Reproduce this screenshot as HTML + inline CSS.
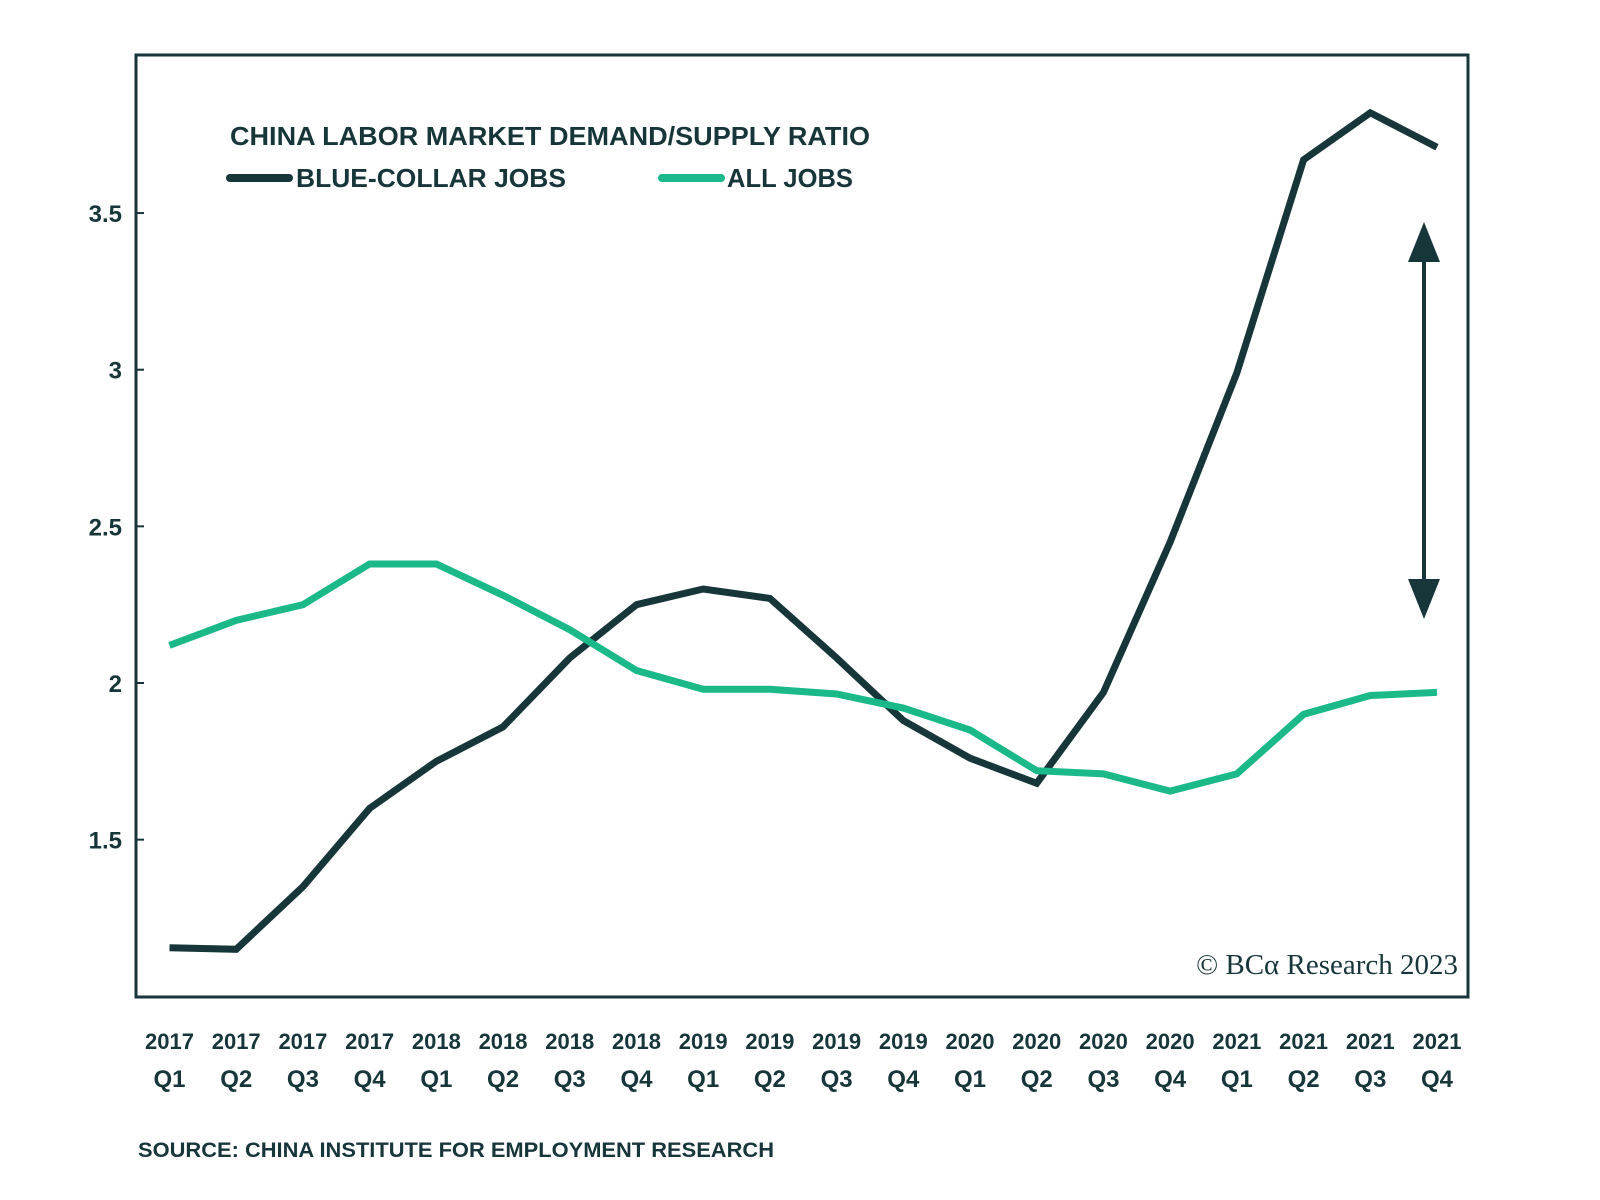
<!DOCTYPE html>
<html><head><meta charset="utf-8"><style>
body{margin:0;background:#fff;}
svg{display:block;font-family:"Liberation Sans",sans-serif;}
</style></head><body>
<svg id="c" width="1600" height="1200" viewBox="0 0 1600 1200">
<rect x="136" y="55" width="1332" height="942" fill="none" stroke="#17363a" stroke-width="3"/>
<g id="yt"></g>
<g id="xt"></g>
<g id="lines"></g>
<text x="230" y="145" font-size="26" font-weight="bold" fill="#17363a" textLength="640" lengthAdjust="spacingAndGlyphs">CHINA LABOR MARKET DEMAND/SUPPLY RATIO</text>
<g>
<line x1="230" y1="178" x2="289" y2="178" stroke="#17363a" stroke-width="8" stroke-linecap="round"/>
<text x="296" y="187" font-size="26" font-weight="bold" fill="#17363a" textLength="270" lengthAdjust="spacingAndGlyphs">BLUE-COLLAR JOBS</text>
</g>
<g>
<line x1="662" y1="178" x2="721" y2="178" stroke="#1bb98a" stroke-width="8" stroke-linecap="round"/>
<text x="727" y="187" font-size="26" font-weight="bold" fill="#17363a" textLength="126" lengthAdjust="spacingAndGlyphs">ALL JOBS</text>
</g>
<g>
<line x1="1424" y1="250" x2="1424" y2="590" stroke="#17363a" stroke-width="4"/>
<polygon points="1424,222 1408,262 1440,262" fill="#17363a"/>
<polygon points="1424,619 1408,579 1440,579" fill="#17363a"/>
</g>
<text x="1458" y="974" font-size="29" text-anchor="end" fill="#17363a" font-family="Liberation Serif, serif">© BCα Research 2023</text>
<text x="138" y="1157" font-size="21" font-weight="bold" fill="#17363a" textLength="636" lengthAdjust="spacingAndGlyphs">SOURCE: CHINA INSTITUTE FOR EMPLOYMENT RESEARCH</text>
</svg>
<script>
const years=["2017","2017","2017","2017","2018","2018","2018","2018","2019","2019","2019","2019","2020","2020","2020","2020","2021","2021","2021","2021"];
const quarters=["Q1","Q2","Q3","Q4","Q1","Q2","Q3","Q4","Q1","Q2","Q3","Q4","Q1","Q2","Q3","Q4","Q1","Q2","Q3","Q4"];
const blueCollar=[1.155,1.15,1.35,1.6,1.75,1.86,2.08,2.25,2.30,2.27,2.08,1.88,1.76,1.68,1.97,2.45,2.99,3.67,3.82,3.71];
const allJobs=[2.12,2.20,2.25,2.38,2.38,2.28,2.17,2.04,1.98,1.98,1.965,1.92,1.85,1.72,1.71,1.655,1.71,1.90,1.96,1.97];
const yTicks=[1.5,2,2.5,3,3.5];
const yLabels=["1.5","2","2.5","3","3.5"];
const NS="http://www.w3.org/2000/svg";
const x=i=>169.5+i*(1437-169.5)/(years.length-1);
const y=v=>683-(v-2)*313.3;
function mk(t,a,p){const e=document.createElementNS(NS,t);for(const k in a)e.setAttribute(k,a[k]);p.appendChild(e);return e;}
const yt=document.getElementById('yt');
yTicks.forEach((v,i)=>{
 const l=mk('line',{x1:136,x2:144,y1:y(v),y2:y(v),stroke:'#17363a','stroke-width':2},yt);
 
 
 const t=mk('text',{x:122,y:y(v)+9,'text-anchor':'end','font-size':24,'font-weight':'bold',fill:'#17363a'},yt);
 t.textContent=yLabels[i];
 
 
});
const xt=document.getElementById('xt');
years.forEach((yr,i)=>{
 const t=mk('text',{x:x(i),y:1049,'text-anchor':'middle','font-size':22,'font-weight':'bold',fill:'#17363a'},xt);
 t.textContent=yr;
 
 
 const q=mk('text',{x:x(i),y:1087,'text-anchor':'middle','font-size':24,'font-weight':'bold',fill:'#17363a'},xt);
 q.textContent=quarters[i];
 
 
});
const lg=document.getElementById('lines');
const pb=mk('polyline',{points:blueCollar.map((v,i)=>x(i)+','+y(v)).join(' '),fill:'none',stroke:'#17363a','stroke-width':7,'stroke-linejoin':'miter'},lg);


const pg=mk('polyline',{points:allJobs.map((v,i)=>x(i)+','+y(v)).join(' '),fill:'none',stroke:'#1bb98a','stroke-width':7,'stroke-linejoin':'miter'},lg);


</script>
</body></html>
